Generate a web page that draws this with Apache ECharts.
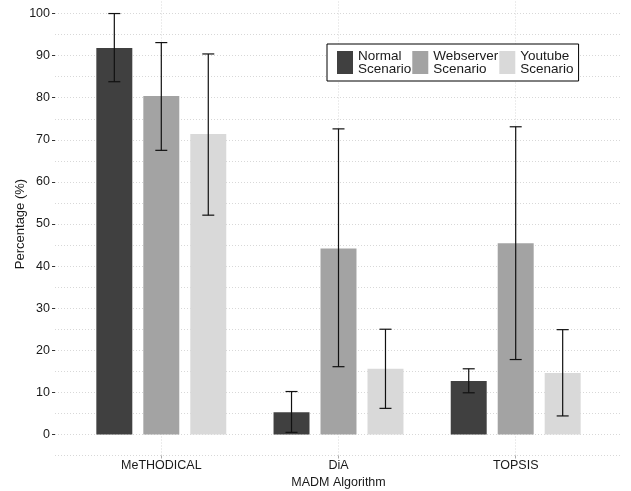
<!DOCTYPE html>
<html>
<head>
<meta charset="utf-8">
<script src="https://cdn.jsdelivr.net/npm/echarts@6/dist/echarts.min.js"></script>
<style>
html,body{margin:0;padding:0;background:#fff;}
#chart{width:631px;height:491px;}
</style>
</head>
<body>
<div id="chart"></div>
<script>
// ---- data ----
var categories = ['MeTHODICAL', 'DiA', 'TOPSIS'];
var scenarios = ['Normal\nScenario', 'Webserver\nScenario', 'Youtube\nScenario'];
var normalMean = [91.8, 5.3, 12.7];
var normalLow  = [83.8, 0.5, 9.9];
var normalHigh = [100.0, 10.2, 15.6];
var webMean = [80.4, 44.2, 45.4];
var webLow  = [67.5, 16.1, 17.8];
var webHigh = [93.1, 72.6, 73.1];
var ytMean = [71.4, 15.6, 14.6];
var ytLow  = [52.1, 6.2, 4.4];
var ytHigh = [90.4, 25.0, 24.9];
var yTicks = [0, 10, 20, 30, 40, 50, 60, 70, 80, 90, 100];

var means = [normalMean, webMean, ytMean];
var lows = [normalLow, webLow, ytLow];
var highs = [normalHigh, webHigh, ytHigh];
var colors = ['#404040', '#a3a3a3', '#d9d9d9'];

var BAR_FRAC = 0.203;
var GAP_FRAC = 0.306;
var FONT = 'Liberation Sans, Arial, Helvetica, sans-serif';

var chart = echarts.init(document.getElementById('chart'), null, {renderer: 'canvas'});

// background grid positions (17 slots of 0.2 category units over the expanded panel)
var bgSlots = [];
for (var i = 0; i < 17; i++) bgSlots.push('s' + i);
var vLineIdx = [3, 8, 13];

var series = [];
for (var s = 0; s < 3; s++) {
  series.push({
    name: scenarios[s],
    type: 'bar',
    xAxisIndex: 1, yAxisIndex: 1,
    data: means[s],
    barWidth: (BAR_FRAC * 100) + '%',
    barGap: (GAP_FRAC * 100) + '%',
    itemStyle: {color: colors[s]},
    silent: true,
    z: 2
  });
}
for (var s2 = 0; s2 < 3; s2++) {
  (function (si) {
    var d = [];
    for (var c = 0; c < categories.length; c++) d.push([c, lows[si][c], highs[si][c]]);
    series.push({
      name: 'err' + si,
      type: 'custom',
      xAxisIndex: 1, yAxisIndex: 1,
      data: d,
      silent: true,
      z: 5,
      renderItem: function (params, api) {
        var band = api.size([1, 0])[0];
        var bw = band * BAR_FRAC;
        var off = (si - 1) * bw * (1 + GAP_FRAC);
        var lo = api.coord([api.value(0), api.value(1)]);
        var hi = api.coord([api.value(0), api.value(2)]);
        var x = lo[0] + off;
        var cap = bw / 3 / 2;
        var st = {stroke: '#111', lineWidth: 1.2};
        return {
          type: 'group',
          children: [
            {type: 'line', shape: {x1: x, y1: lo[1], x2: x, y2: hi[1]}, style: st},
            {type: 'line', shape: {x1: x - cap, y1: lo[1], x2: x + cap, y2: lo[1]}, style: st},
            {type: 'line', shape: {x1: x - cap, y1: hi[1], x2: x + cap, y2: hi[1]}, style: st}
          ]
        };
      }
    });
  })(s2);
}

var gridLineStyle = {color: '#d8d8d8', type: [1, 2], width: 1};

var option = {
  backgroundColor: '#ffffff',
  animation: false,
  textStyle: {fontFamily: FONT},
  grid: [
    {left: 55, right: 9, top: -7.5, bottom: 35.5, containLabel: false, outerBoundsMode: 'none'},
    {left: 72.7, right: 26.7, top: -7.5, bottom: 35.5, containLabel: false, outerBoundsMode: 'none'},
    {left: 55, right: 9, top: 13.5, bottom: 56.5, containLabel: false, outerBoundsMode: 'none'}
  ],
  xAxis: [
    {
      gridIndex: 0, type: 'category', data: bgSlots, boundaryGap: false,
      axisLine: {show: false}, axisTick: {show: false}, axisLabel: {show: false},
      splitLine: {
        show: true, lineStyle: gridLineStyle,
        interval: function (idx) { return vLineIdx.indexOf(idx) >= 0; }
      }
    },
    {
      gridIndex: 1, type: 'category', data: categories,
      axisLine: {show: false, onZero: false},
      axisTick: {show: true, alignWithLabel: true, length: 3, lineStyle: {color: '#aaaaaa'}},
      axisLabel: {color: '#1a1a1a', fontSize: 12.5, margin: 4, fontFamily: FONT},
      splitLine: {show: false},
      name: 'MADM Algorithm', nameLocation: 'middle', nameGap: 21, nameMoveOverlap: false,
      nameTextStyle: {color: '#1a1a1a', fontSize: 12.5, fontFamily: FONT}
    },
    {
      gridIndex: 2, type: 'value', show: false
    }
  ],
  yAxis: [
    {
      gridIndex: 0, type: 'value', min: -5, max: 105, interval: 5,
      axisLine: {show: false}, axisTick: {show: false}, axisLabel: {show: false},
      splitLine: {show: true, lineStyle: gridLineStyle}
    },
    {
      gridIndex: 1, type: 'value', min: -5, max: 105, interval: 5, show: false
    },
    {
      gridIndex: 2, type: 'value', min: yTicks[0], max: yTicks[yTicks.length - 1], interval: 10,
      axisLine: {show: false, onZero: false},
      axisTick: {show: true, length: 3, lineStyle: {color: '#333333'}},
      axisLabel: {color: '#1a1a1a', fontSize: 12.5, margin: 5, fontFamily: FONT},
      splitLine: {show: false},
      name: 'Percentage (%)', nameLocation: 'middle', nameGap: 28, nameRotate: 90, nameMoveOverlap: false,
      nameTextStyle: {color: '#1a1a1a', fontSize: 13, fontFamily: FONT}
    }
  ],
  legend: {
    data: scenarios,
    left: 327, top: 44,
    orient: 'horizontal',
    icon: 'rect',
    itemWidth: 16, itemHeight: 23, itemGap: 1,
    padding: [5, 5, 5, 10],
    borderColor: '#000', borderWidth: 1,
    backgroundColor: '#fff',
    selectedMode: false,
    textStyle: {fontSize: 13.5, lineHeight: 13, color: '#1a1a1a', fontFamily: FONT}
  },
  series: series
};
chart.setOption(option);
</script>
</body>
</html>
